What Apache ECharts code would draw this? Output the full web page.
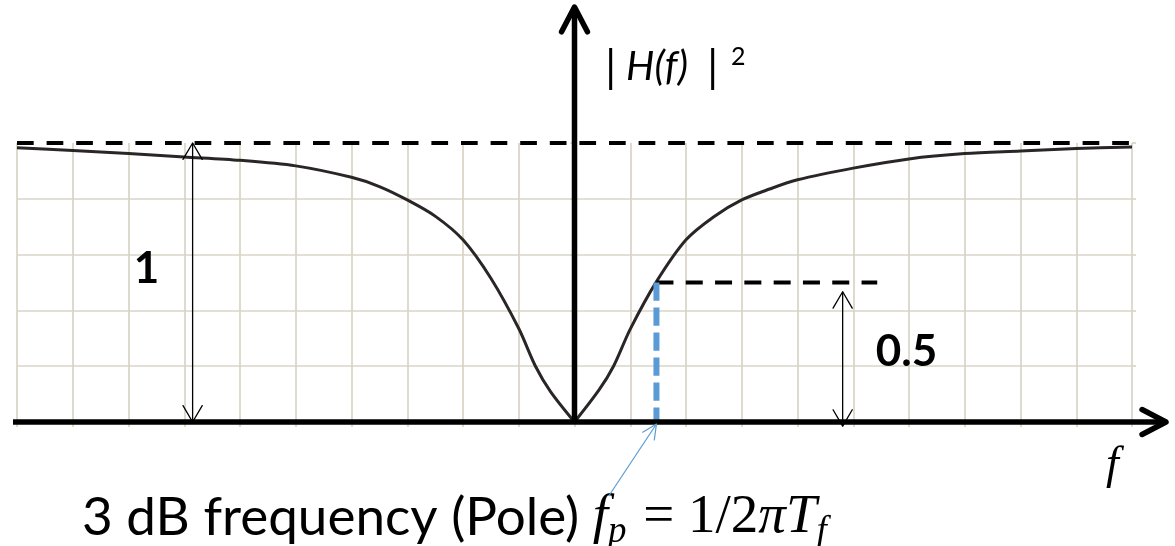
<!DOCTYPE html>
<html>
<head>
<meta charset="utf-8">
<script src="https://cdn.jsdelivr.net/npm/echarts@6/dist/echarts.min.js"></script>
<style>
  html, body { margin: 0; padding: 0; background: #ffffff; }
  #chart { width: 1175px; height: 546px; }
</style>
</head>
<body>
<div id="chart"></div>
<script>
// Squared magnitude response |H(f)|^2 of a high-pass stage (frequency in grid units)
const freqLeft  = [-10, -9, -8, -7, -6, -5, -4, -3.5, -3, -2.5, -2, -1.5, -1, -0.7, -0.43, 0];
const gainLeft  = [0.983, 0.973, 0.962, 0.950, 0.938, 0.918, 0.877, 0.844, 0.796, 0.738, 0.653, 0.515, 0.335, 0.200, 0.109, 0];
const freqRight = [0, 0.44, 0.7, 1, 1.47, 2, 2.5, 3, 3.5, 4, 5, 6, 7, 8, 9, 10];
const gainRight = [0, 0.115, 0.200, 0.333, 0.503, 0.653, 0.736, 0.796, 0.835, 0.868, 0.910, 0.943, 0.962, 0.971, 0.980, 0.986];

const fPole = 1.47;       // 3 dB (pole) frequency
const passband = 1;       // asymptotic level
const halfPower = 0.5;    // -3 dB level
const fMin = -10, fMax = 10;
const passbandEnd = 10.24;  // dashed reference line runs slightly past the grid
const halfPowerEnd = 5.43;  // end of the 0.5 guide line
const spanOneAt = -6.85;    // where the "1" dimension arrow stands
const spanHalfAt = 4.81;    // where the "0.5" dimension arrow stands

const yTitle = ['|', 'H(f)', '|', '2'];
const spanLabels = ['1', '0.5'];
const xTitle = 'f';
const noteText = '3 dB frequency (Pole) ';

const GRID = '#d8d4c6';
const INK = '#000000';
const BLUE = '#5b9bd5';

const branchLeft = freqLeft.map((f, i) => [f, gainLeft[i]]);
const branchRight = freqRight.map((f, i) => [f, gainRight[i]]);

const chart = echarts.init(document.getElementById('chart'), null, { renderer: 'canvas' });

const curveStyle = { color: '#2a2627', width: 3 };
const option = {
  animation: false,
  backgroundColor: '#ffffff',
  grid: { left: 17, right: 43, top: 143, bottom: 124 },
  xAxis: {
    type: 'value', min: fMin, max: fMax, interval: 1,
    axisLine: { show: false }, axisLabel: { show: false },
    axisTick: { show: true, length: 5, lineStyle: { color: GRID, width: 1.7 } },
    splitLine: { show: true, lineStyle: { color: GRID, width: 1.7 } }
  },
  yAxis: [
    {
      type: 'value', min: 0, max: 1, interval: 0.2,
      axisLine: { show: false }, axisLabel: { show: false },
      axisTick: { show: true, length: 4, lineStyle: { color: GRID, width: 1.7 } },
      splitLine: { show: true, showMaxLine: false, showMinLine: false, lineStyle: { color: GRID, width: 1.7 } }
    },
    {
      type: 'value', position: 'right', min: 0, max: 1, interval: 0.2,
      axisLine: { show: false }, axisLabel: { show: false },
      axisTick: { show: true, length: 4, lineStyle: { color: GRID, width: 1.7 } },
      splitLine: { show: false }
    }
  ],
  series: [
    { type: 'line', data: branchLeft, symbol: 'none', smooth: 0.3, lineStyle: curveStyle, z: 3 },
    { type: 'line', data: branchRight, symbol: 'none', smooth: 0.3, lineStyle: curveStyle, z: 3 },
    {
      type: 'line', data: [[fMin, passband], [passbandEnd, passband]], symbol: 'none', clip: false,
      lineStyle: { color: INK, width: 4, type: [16.7, 12.9], cap: 'butt' }, z: 4
    },
    {
      type: 'line', data: [[fPole, halfPower], [halfPowerEnd, halfPower]], symbol: 'none', clip: false,
      lineStyle: { color: INK, width: 4, type: [17, 12.3], cap: 'butt' }, z: 4
    },
    {
      type: 'line', data: [[fPole, halfPower], [fPole, 0]], symbol: 'none', clip: false,
      lineStyle: { color: BLUE, width: 6, type: [18.3, 6.7], cap: 'butt' }, z: 5
    }
  ]
};
chart.setOption(option);

const toPx = (f, g) => chart.convertToPixel({ gridIndex: 0 }, [f, g]);

// measuring helper for laying out text pieces side by side
const measureCtx = document.createElement('canvas').getContext('2d');
function textWidth(str, font) { measureCtx.font = font; return measureCtx.measureText(str).width; }

function chevron(tip, dir, len, spread, color, width) {
  // open arrow head pointing along dir (unit vector), drawn as two strokes
  const a = Math.atan2(dir[1], dir[0]);
  const p1 = [tip[0] - len * Math.cos(a - spread), tip[1] - len * Math.sin(a - spread)];
  const p2 = [tip[0] - len * Math.cos(a + spread), tip[1] - len * Math.sin(a + spread)];
  return {
    type: 'polyline', shape: { points: [p1, tip, p2] },
    style: { stroke: color, lineWidth: width, fill: null, lineJoin: 'round', lineCap: 'round' }, z: 20
  };
}

function dimArrow(f, g0, g1) {
  const top = toPx(f, g1), bot = toPx(f, g0);
  return [
    { type: 'line', shape: { x1: top[0], y1: top[1], x2: bot[0], y2: bot[1] },
      style: { stroke: INK, lineWidth: 1.3 }, z: 20 },
    chevron(top, [0, -1], 19, 0.53, INK, 1.3),
    chevron(bot, [0, 1], 19, 0.53, INK, 1.3)
  ];
}

const origin = toPx(0, 0);
const left = toPx(fMin, 0);
const right = toPx(fMax, 0);

const g = [];
// horizontal axis with arrow
const xTip = [right[0] + 34, origin[1]];
g.push({ type: 'line', shape: { x1: left[0] - 4, y1: origin[1], x2: xTip[0] - 2, y2: origin[1] },
  style: { stroke: INK, lineWidth: 5.5 }, z: 18 });
g.push(chevron(xTip, [1, 0], 27, 0.48, INK, 5.5));
// vertical axis with arrow
const yTip = [origin[0], 7];
g.push({ type: 'line', shape: { x1: origin[0], y1: origin[1], x2: origin[0], y2: yTip[1] + 2 },
  style: { stroke: INK, lineWidth: 5.5 }, z: 18 });
g.push(chevron(yTip, [0, -1], 28, 0.48, INK, 5.5));

// dimension arrows
g.push(...dimArrow(spanOneAt, 0, passband));
g.push(...dimArrow(spanHalfAt, -0.015, 0.467));

// dimension labels
const lblFont = 'bold 44px Lato';
const one = toPx(spanOneAt, 0.55);
g.push({ type: 'text', x: one[0] - 46, y: one[1], z: 21,
  style: { text: spanLabels[0], font: lblFont, fill: INK, align: 'center', verticalAlign: 'middle' } });
const half = toPx(spanHalfAt, 0.25);
g.push({ type: 'text', x: half[0] + 33, y: half[1], z: 21,
  style: { text: spanLabels[1], font: lblFont, fill: INK, align: 'left', verticalAlign: 'middle' } });

// vertical axis title |H(f)|^2
const tFont = 'italic 40px Lato';
const barFont = 'italic 44px Lato';
g.push({ type: 'text', x: 605, y: 68, z: 21, style: { text: yTitle[0], font: barFont, fill: INK, align: 'left', verticalAlign: 'middle' } });
g.push({ type: 'text', x: 626, y: 67, z: 21, style: { text: yTitle[1], font: tFont, fill: INK, align: 'left', verticalAlign: 'middle' } });
g.push({ type: 'text', x: 707, y: 68, z: 21, style: { text: yTitle[2], font: barFont, fill: INK, align: 'left', verticalAlign: 'middle' } });
g.push({ type: 'text', x: 731, y: 57, z: 21, style: { text: yTitle[3], font: '25px Lato', fill: INK, align: 'left', verticalAlign: 'middle' } });

// horizontal axis title
g.push({ type: 'text', x: 1106, y: 466, z: 21,
  style: { text: xTitle, font: 'italic 46px "Liberation Serif"', fill: INK, align: 'left', verticalAlign: 'middle' } });

// note: 3 dB frequency (Pole) f_p = 1/2πT_f
const noteFont = '53px Lato';
const mathFont = 'italic 55px "Liberation Serif"';
const mathUp = '55px "Liberation Serif"';
const subFont = 'italic 37px "Liberation Serif"';
const baseY = 518;
let cx = 82;
const pieces = [
  { t: noteText, font: noteFont, dy: 0 },
  { t: 'f', font: mathFont, dy: 0, mark: true },
  { t: 'p', font: subFont, dy: 14 },
  { t: ' = 1/2', font: mathUp, dy: 0 },
  { t: 'πT', font: mathFont, dy: 0 },
  { t: 'f', font: subFont, dy: 14 }
];
let fAt = null;
pieces.forEach(p => {
  g.push({ type: 'text', x: cx, y: baseY + p.dy, z: 21,
    style: { text: p.t, font: p.font, fill: INK, align: 'left', verticalAlign: 'middle' } });
  if (p.mark) fAt = cx;
  cx += textWidth(p.t, p.font) + (p.font === subFont ? 3 : 0);
});

// pointer from the note to the pole frequency on the axis
const poleAxis = toPx(fPole, 0);
const pTip = [poleAxis[0], poleAxis[1] + 2];
const pEnd = [fAt + 16, baseY - 22];
g.push({ type: 'line', shape: { x1: pEnd[0], y1: pEnd[1], x2: pTip[0], y2: pTip[1] },
  style: { stroke: BLUE, lineWidth: 1.2 }, z: 21 });
const d = [pTip[0] - pEnd[0], pTip[1] - pEnd[1]];
const dl = Math.hypot(d[0], d[1]);
g.push(chevron(pTip, [d[0] / dl, d[1] / dl], 16, 0.45, BLUE, 1.2));

chart.setOption({ graphic: g });
</script>
</body>
</html>
